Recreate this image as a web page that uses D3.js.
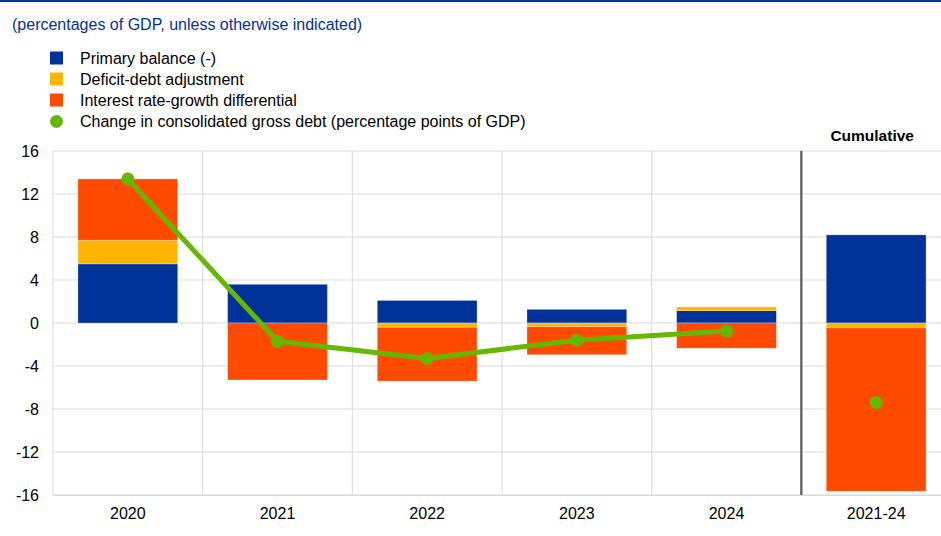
<!DOCTYPE html>
<html>
<head>
<meta charset="utf-8">
<script src="https://cdn.jsdelivr.net/npm/d3@7"></script>
<style>
  html, body { margin: 0; padding: 0; background: #fff; }
  svg { display: block; font-family: "Liberation Sans", Arial, sans-serif; }
</style>
</head>
<body>
<svg id="chart" width="941" height="536"></svg>
<script>
// Debt dynamics decomposition, percentages of GDP
const categories = ["2020", "2021", "2022", "2023", "2024", "2021-24"];
const primaryBalance = [5.5, 3.6, 2.1, 1.27, 1.15, 8.2];
const deficitDebtAdj = [2.2, 0.0, -0.4, -0.35, 0.35, -0.45];
const interestGrowth = [5.7, -5.3, -5.0, -2.6, -2.35, -15.2];
const debtChange = [13.4, -1.7, -3.3, -1.6, -0.75, -7.4];
const yTicks = [-16, -12, -8, -4, 0, 4, 8, 12, 16];

const seriesNames = ["Primary balance (-)", "Deficit-debt adjustment", "Interest rate-growth differential"];
const lineName = "Change in consolidated gross debt (percentage points of GDP)";
const colors = ["#003299", "#ffb400", "#ff4b00"];
const green = "#65b800";

const svg = d3.select("#chart");
const W = 941, H = 536;
const margin = { left: 53, top: 151, bottom: 41 };
const plotRight = 951;
const FONT = "Liberation Sans, Arial, sans-serif";

// Header rule and subtitle
svg.append("rect").attr("x", 0).attr("y", 0).attr("width", W).attr("height", 2).attr("fill", "#003299");
svg.append("text").attr("x", 12).attr("y", 30)
  .attr("font-size", 16).attr("fill", "#003299")
  .text("(percentages of GDP, unless otherwise indicated)");

// Legend
const legend = svg.append("g");
const legendRows = [58, 79, 100, 121.5];
seriesNames.forEach((name, i) => {
  legend.append("rect").attr("x", 50).attr("y", legendRows[i] - 6.5)
    .attr("width", 13).attr("height", 13).attr("fill", colors[i]);
  legend.append("text").attr("x", 80).attr("y", legendRows[i] + 5.5)
    .attr("font-size", 16).attr("fill", "#000").text(name);
});
legend.append("circle").attr("cx", 56.5).attr("cy", legendRows[3]).attr("r", 6.5).attr("fill", green);
legend.append("text").attr("x", 80).attr("y", legendRows[3] + 5.5)
  .attr("font-size", 16).attr("fill", "#000").text(lineName);

// Scales
const x = d3.scaleBand().domain(categories).range([margin.left, plotRight]).paddingInner(1 / 3).paddingOuter(1 / 6);
const y = d3.scaleLinear().domain([-16, 16]).range([H - margin.bottom, margin.top]);

// Gridlines
const grid = svg.append("g");
grid.selectAll("line.h").data(yTicks).join("line")
  .attr("x1", margin.left).attr("x2", plotRight)
  .attr("y1", d => y(d)).attr("y2", d => y(d))
  .attr("stroke", "#d9d9d9").attr("stroke-width", 1);
const step = x.step();
const dividers = categories.slice(0, 4).map(c => x(c) + x.bandwidth() + (step - x.bandwidth()) / 2);
grid.selectAll("line.v").data(dividers).join("line")
  .attr("x1", d => d).attr("x2", d => d)
  .attr("y1", y(16)).attr("y2", y(-16))
  .attr("stroke", "#d9d9d9").attr("stroke-width", 1);
grid.append("line").attr("x1", margin.left).attr("x2", margin.left)
  .attr("y1", y(16)).attr("y2", y(-16)).attr("stroke", "#d9d9d9");

// Stacked bars, diverging from zero
const rows = categories.map((c, i) => ({ cat: c, pb: primaryBalance[i], dda: deficitDebtAdj[i], irg: interestGrowth[i] }));
const stack = d3.stack().keys(["pb", "dda", "irg"]).offset(d3.stackOffsetDiverging);
const layers = stack(rows);
svg.append("g").selectAll("g").data(layers).join("g")
  .attr("fill", (d, i) => colors[i])
  .selectAll("rect").data(d => d).join("rect")
  .attr("x", d => x(d.data.cat))
  .attr("width", x.bandwidth())
  .attr("y", d => y(Math.max(d[0], d[1])))
  .attr("height", d => Math.abs(y(d[0]) - y(d[1])))
  .attr("stroke", "rgba(255,255,255,0.35)").attr("stroke-width", 0.8);

// Separator before cumulative column
const sepX = x("2024") + x.bandwidth() + (step - x.bandwidth()) / 2;
svg.append("line").attr("x1", sepX).attr("x2", sepX)
  .attr("y1", y(16)).attr("y2", y(-16))
  .attr("stroke", "#595959").attr("stroke-width", 2.2);

svg.append("text").attr("x", x("2021-24") + x.bandwidth() / 2 - 4).attr("y", 141)
  .attr("text-anchor", "middle").attr("font-size", 15.5).attr("font-weight", "bold")
  .text("Cumulative");

// Debt change line (annual) and cumulative point
const annual = categories.slice(0, 5).map((c, i) => ({ cat: c, v: debtChange[i] }));
const cx = c => x(c) + x.bandwidth() / 2;
svg.append("path").datum(annual)
  .attr("d", d3.line().x(d => cx(d.cat)).y(d => y(d.v)))
  .attr("fill", "none").attr("stroke", green).attr("stroke-width", 5).attr("stroke-linejoin", "round");
svg.append("g").selectAll("circle").data(categories.map((c, i) => ({ cat: c, v: debtChange[i] }))).join("circle")
  .attr("cx", d => cx(d.cat)).attr("cy", d => y(d.v)).attr("r", 6.5).attr("fill", green);

// Axes labels
const yAxis = d3.axisLeft(y).tickValues(yTicks).tickFormat(d => String(d)).tickSize(0).tickPadding(14);
svg.append("g").attr("transform", `translate(${margin.left},0)`).call(yAxis)
  .call(g => g.select(".domain").remove())
  .call(g => g.selectAll("text").attr("font-size", 16).attr("fill", "#000").attr("font-family", FONT));

const xAxis = d3.axisBottom(x).tickSize(0).tickPadding(13);
svg.append("g").attr("transform", `translate(0,${y(-16)})`).call(xAxis)
  .call(g => g.select(".domain").attr("stroke", "#d9d9d9"))
  .call(g => g.selectAll("text").attr("font-size", 16).attr("fill", "#000").attr("font-family", FONT));
</script>
</body>
</html>
